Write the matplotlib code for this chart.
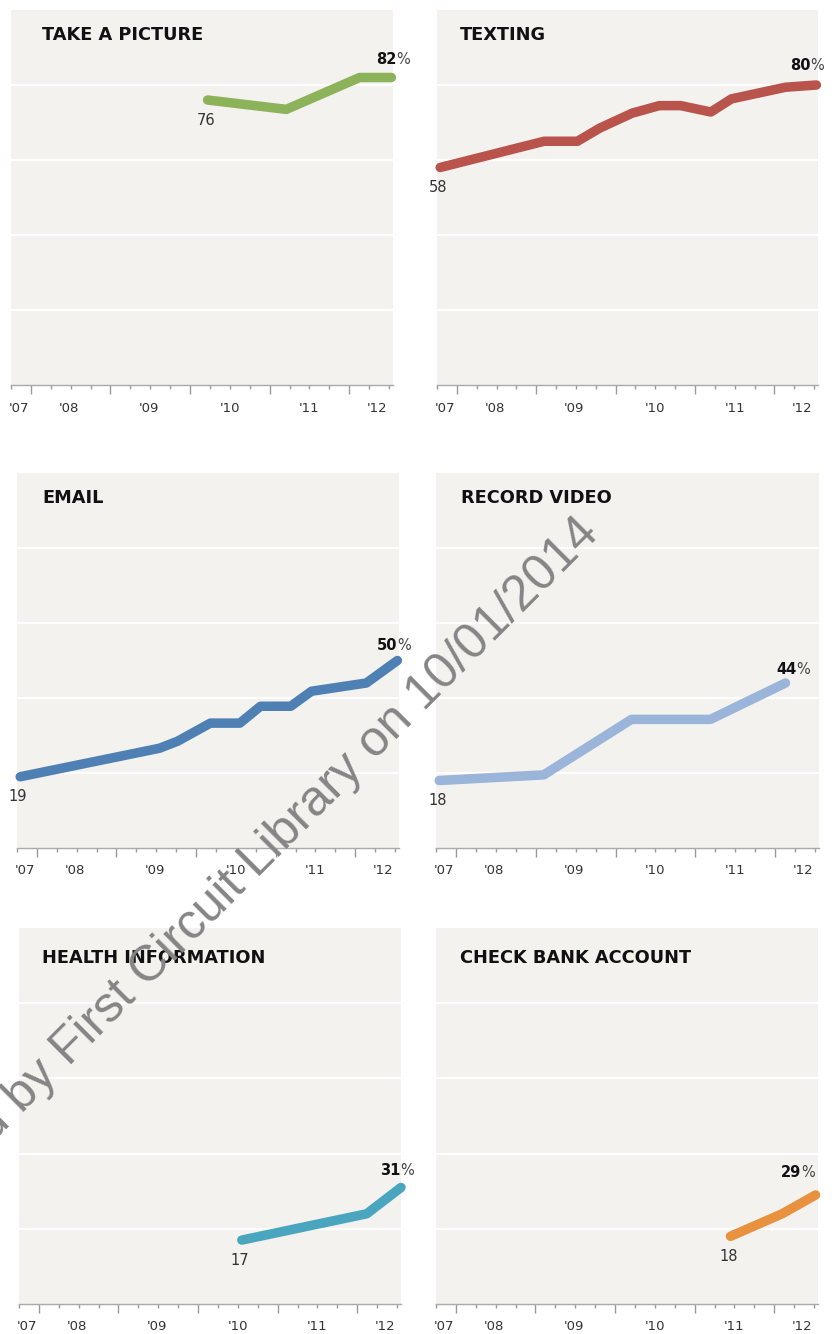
import matplotlib
matplotlib.use("Agg")
import matplotlib.pyplot as plt
from matplotlib.ticker import FixedLocator

W, H = 839, 1334
PT = 72 / 100  # pixels -> points at dpi 100

titles = ["TAKE A PICTURE", "TEXTING", "EMAIL", "RECORD VIDEO",
          "HEALTH INFORMATION", "CHECK BANK ACCOUNT"]
colors = ["#8db35a", "#b8544c", "#4e80b4", "#9ab5d9", "#4aa6be", "#e8923f"]

# survey dates (decimal years) and % of cell owners
picture_x = [2010.22, 2011.21, 2012.13, 2012.53]
picture_y = [76, 73.5, 82, 82]
texting_x = [2007.79, 2009.10, 2009.52, 2009.80, 2010.21, 2010.55, 2010.82,
             2011.20, 2011.46, 2012.14, 2012.53]
texting_y = [58, 65, 65, 68.5, 72.5, 74.5, 74.5, 72.8, 76.3, 79.4, 80]
email_x = [2007.79, 2009.54, 2009.77, 2010.18, 2010.55, 2010.81, 2011.19,
           2011.45, 2012.14, 2012.53]
email_y = [19, 26.6, 28.5, 33.3, 33.3, 37.8, 37.8, 41.8, 44, 50]
video_x = [2007.79, 2009.10, 2010.20, 2011.19, 2012.13]
video_y = [18, 19.5, 34.3, 34.3, 44]
health_x = [2010.55, 2012.12, 2012.55]
health_y = [17, 24, 31]
bank_x = [2011.45, 2012.10, 2012.52]
bank_y = [18, 24, 29]

series = [(picture_x, picture_y), (texting_x, texting_y), (email_x, email_y),
          (video_x, video_y), (health_x, health_y), (bank_x, bank_y)]

year_labels = ["'07", "'08", "'09", "'10", "'11", "'12"]
year_label_x = [2007.85, 2008.48, 2009.48, 2010.5, 2011.5, 2012.35]
gridlines = [20, 40, 60, 80]

# panel boxes in pixels: left, top, right, bottom
boxes = [(11, 10, 393, 385), (437, 10, 818, 385),
         (17, 473, 399, 848), (436, 473, 819, 848),
         (19, 928, 401, 1304), (436, 928, 818, 1304)]
title_pos = [(42, 40), (460, 40), (42, 503), (461, 503), (42, 963), (460, 963)]
end_offsets = [(5, 18), (-6, 20), (0, 15), (11, 13), (-1, 17), (-14, 22)]

fig = plt.figure(figsize=(W / 100, H / 100), dpi=100)
fig.patch.set_facecolor("white")

for i, (xs, ys) in enumerate(series):
    l, t, r, b = boxes[i]
    ax = fig.add_axes([l / W, 1 - b / H, (r - l) / W, (b - t) / H])
    ax.set_facecolor("#f3f2ee")
    ax.set_xlim(2007.75, 2012.55)
    ax.set_ylim(0, 100)
    for g in gridlines:
        ax.axhline(g, color="white", lw=2.2 * PT, zorder=1)

    ax.plot(xs, ys, color=colors[i], lw=9.5 * PT, solid_capstyle="round",
            solid_joinstyle="round", clip_on=False, zorder=3)

    # start value under the first point
    ax.annotate(f"{ys[0]:g}", xy=(xs[0], ys[0]), xytext=(-2 * PT, -20 * PT),
                textcoords="offset points", ha="center", va="center",
                fontsize=10.5, color="#333333", annotation_clip=False)
    # end value above the last point
    dx, dy = end_offsets[i]
    ax.annotate(f"{ys[-1]:g}", xy=(xs[-1], ys[-1]), xytext=(dx * PT, dy * PT),
                textcoords="offset points", ha="right", va="center",
                fontsize=10.5, fontweight="bold", color="#111111",
                annotation_clip=False)
    ax.annotate("%", xy=(xs[-1], ys[-1]), xytext=(dx * PT, dy * PT),
                textcoords="offset points", ha="left", va="center",
                fontsize=10.5, color="#444444", annotation_clip=False)

    for s in ["top", "left", "right"]:
        ax.spines[s].set_visible(False)
    ax.spines["bottom"].set_color("#aaaaaa")
    ax.spines["bottom"].set_linewidth(1.0)
    ax.set_yticks([])
    ax.xaxis.set_major_locator(FixedLocator([2008, 2009, 2010, 2011, 2012]))
    quarters = [2007.75 + 0.25 * k for k in range(20)]
    ax.xaxis.set_minor_locator(FixedLocator([q for q in quarters if q % 1 != 0]))
    ax.tick_params(axis="x", which="major", length=9 * PT, width=1,
                   color="#999999", labelbottom=False)
    ax.tick_params(axis="x", which="minor", length=3.5 * PT, width=1,
                   color="#999999")

    for lab, lx in zip(year_labels, year_label_x):
        ax.annotate(lab, xy=(lx, 0), xycoords=("data", "axes fraction"),
                    xytext=(0, -23 * PT), textcoords="offset points",
                    ha="center", va="center", fontsize=9.5, color="#333333",
                    annotation_clip=False)

    tx, ty = title_pos[i]
    fig.text(tx / W, 1 - ty / H, titles[i], ha="left", va="baseline",
             fontsize=12.8, fontweight="bold", color="#111111")

# watermark stamped over the page
fig.text(601 / W, 1 - 535 / H, "Downloaded by First Circuit Library on 10/01/2014",
         rotation=45, rotation_mode="anchor", ha="right", va="baseline",
         fontsize=35.9, color="#858585", family="Liberation Sans", zorder=10)

fig.savefig("out.png", dpi=100)
